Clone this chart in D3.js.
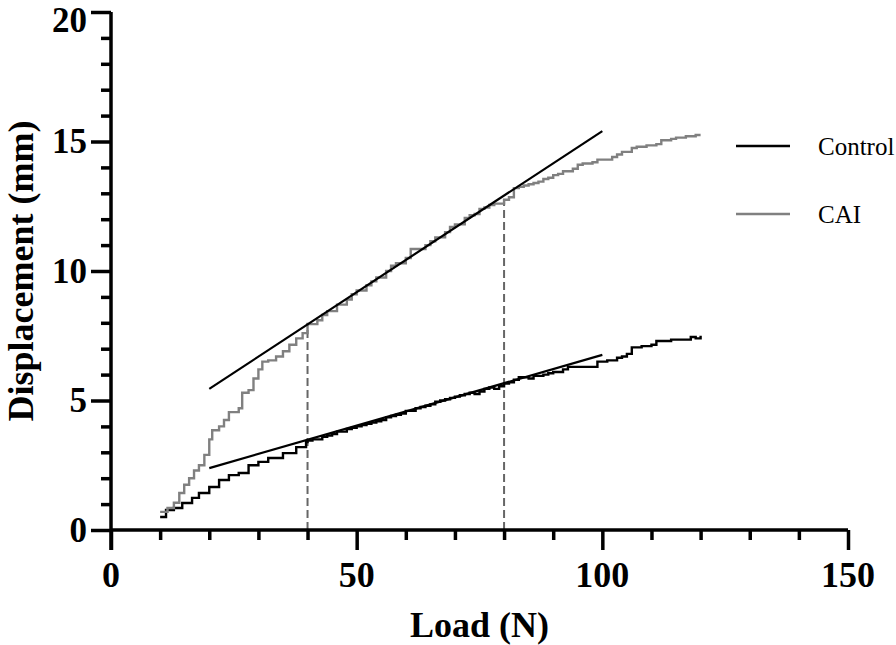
<!DOCTYPE html>
<html>
<head>
<meta charset="utf-8">
<script src="https://cdn.jsdelivr.net/npm/d3@7"></script>
<style>
  html, body { margin: 0; padding: 0; background: #fff; }
  text { font-family: "Liberation Serif", "Times New Roman", serif; }
</style>
</head>
<body>
<div id="chart"></div>
<script>
// tick labels
const xTicks = [0, 50, 100, 150];
const yTicks = [0, 5, 10, 15, 20];

// Control curve (load N, displacement mm)
const controlLoad = [10, 11.2, 12.8, 14.5, 16.5, 17.9, 20, 22, 24, 26, 28, 30, 32, 35, 37.7, 39.7,
  40, 41, 42, 43, 44, 45, 46, 47, 48, 49, 50, 51, 52, 53, 54, 55, 56, 57, 58, 59, 60, 61, 62, 63, 64,
  65, 66, 67, 68, 69, 70, 71, 72, 73, 74, 75, 76, 77, 78, 79, 80, 81, 82, 83, 84, 85, 86, 88, 89, 90,
  92, 93, 95, 98, 99, 101, 103, 104, 105, 106, 108, 110, 111, 114, 117, 118, 119, 120];
const controlDisp = [0.5, 0.77, 0.85, 1.04, 1.24, 1.43, 1.66, 1.93, 2.12, 2.2, 2.5, 2.63, 2.78, 2.97, 3.2, 3.4,
  3.45, 3.5, 3.5, 3.6, 3.65, 3.7, 3.8, 3.8, 3.9, 3.95, 4.0, 4.05, 4.1, 4.15, 4.2, 4.25, 4.35, 4.4, 4.45, 4.5, 4.6, 4.6, 4.7, 4.75, 4.8,
  4.85, 4.95, 5.0, 5.05, 5.1, 5.15, 5.2, 5.25, 5.3, 5.25, 5.35, 5.45, 5.5, 5.45, 5.55, 5.65, 5.7, 5.8, 5.9, 5.9, 5.85, 5.95, 6.0, 6.05, 6.1,
  6.2, 6.3, 6.3, 6.3, 6.5, 6.55, 6.65, 6.7, 6.8, 7.05, 7.1, 7.15, 7.3, 7.35, 7.35, 7.45, 7.4, 7.5];

// CAI curve (load N, displacement mm)
const caiLoad = [10, 11.5, 12.8, 13.9, 14.9, 15.9, 16.9, 17.9, 19, 20, 20.6, 22, 23, 24, 26, 26.7, 28, 29, 30, 30.8,
  32, 33.6, 35, 36.3, 37.7, 39, 40, 41, 42, 43, 44, 46, 48, 49, 50, 52, 53, 54, 56, 57, 58, 60, 61, 62, 64, 65, 66,
  68, 69, 70, 72, 73, 74, 75, 76, 77, 78, 79, 80, 81, 82, 83, 84, 85, 86, 87, 88, 89, 90, 91, 92, 94, 95, 96, 98,
  99, 100, 102, 103, 104, 106, 107, 109, 111, 112, 114, 115, 117, 119, 120];
const caiDisp = [0.7, 0.85, 1.05, 1.43, 1.75, 2.0, 2.3, 2.5, 2.9, 3.5, 3.85, 4.0, 4.25, 4.55, 4.7, 5.3, 5.4, 5.85, 6.2, 6.5,
  6.55, 6.7, 6.9, 7.15, 7.4, 7.6, 7.95, 7.95, 8.1, 8.3, 8.45, 8.7, 8.9, 9.1, 9.25, 9.45, 9.6, 9.75, 10.0, 10.2, 10.3, 10.5, 10.85, 10.85, 11.0, 11.15, 11.3,
  11.5, 11.7, 11.8, 12.05, 12.15, 12.2, 12.4, 12.45, 12.55, 12.6, 12.6, 12.75, 12.85, 13.2, 13.25, 13.3, 13.35, 13.4, 13.45, 13.55, 13.6, 13.7, 13.75, 13.85, 13.95, 14.1, 14.15, 14.2,
  14.3, 14.3, 14.4, 14.5, 14.6, 14.75, 14.8, 14.85, 14.9, 15.05, 15.1, 15.15, 15.2, 15.25, 15.25];

// linear fits and marker lines
const fitLoad = [20, 100];
const controlFit = [2.39, 6.76];
const caiFit = [5.45, 15.4];
const markLoad = [40, 80];
const markDisp = [8.0, 12.75];

const series = ['Control', 'CAI'];
const seriesColor = ['#000000', '#808080'];

const width = 896, height = 645;
const svg = d3.select('#chart').append('svg').attr('width', width).attr('height', height);

const x = d3.scaleLinear().domain([0, 150]).range([111, 848]);
const y = d3.scaleLinear().domain([0, 20]).range([530, 12]);

// dashed markers
svg.append('g').selectAll('line')
  .data(markLoad).enter()
  .append('line')
  .attr('x1', d => x(d)).attr('x2', d => x(d))
  .attr('y1', y(0)).attr('y2', (d, i) => y(markDisp[i]))
  .attr('stroke', '#666').attr('stroke-width', 2)
  .attr('stroke-dasharray', '8,4');

// curves
const line = d3.line().x(d => x(d[0])).y(d => y(d[1])).curve(d3.curveStepAfter);
const curves = [d3.zip(controlLoad, controlDisp), d3.zip(caiLoad, caiDisp)];
svg.append('g').selectAll('path')
  .data(curves).enter()
  .append('path')
  .attr('d', line)
  .attr('fill', 'none')
  .attr('stroke', (d, i) => seriesColor[i])
  .attr('stroke-width', 2.4)
  .attr('stroke-linejoin', 'miter');

// fit lines
const fitLine = d3.line().x(d => x(d[0])).y(d => y(d[1]));
svg.append('g').selectAll('path')
  .data([d3.zip(fitLoad, controlFit), d3.zip(fitLoad, caiFit)]).enter()
  .append('path')
  .attr('d', fitLine)
  .attr('fill', 'none')
  .attr('stroke', '#000')
  .attr('stroke-width', 2.2);

// x axis
const xAxis = svg.append('g').attr('transform', 'translate(0,' + y(0) + ')')
  .call(d3.axisBottom(x).tickValues(d3.range(0, 151, 10)).tickSize(10).tickFormat(''));
xAxis.selectAll('.tick line').filter(d => d % 50 === 0).attr('y2', 20);
xAxis.select('.domain').attr('d', 'M' + x(0) + ',0H' + x(150));
xAxis.selectAll('path, line').attr('stroke', '#000').attr('stroke-width', 3.5);
svg.append('g').selectAll('text')
  .data(xTicks).enter()
  .append('text')
  .attr('x', d => x(d)).attr('y', 587)
  .attr('text-anchor', 'middle')
  .style('font-size', '36px').style('font-weight', 'bold')
  .text(d => d);

// y axis
const yAxis = svg.append('g').attr('transform', 'translate(' + x(0) + ',0)')
  .call(d3.axisLeft(y).tickValues(d3.range(0, 21, 1)).tickSize(10).tickFormat(''));
yAxis.selectAll('.tick line').filter(d => d % 5 === 0).attr('x2', -20);
yAxis.select('.domain').attr('d', 'M0,' + y(20) + 'V' + (y(0) + 20));
yAxis.selectAll('path, line').attr('stroke', '#000').attr('stroke-width', 3.5);
svg.append('g').selectAll('text')
  .data(yTicks).enter()
  .append('text')
  .attr('x', 87).attr('y', d => y(d) + (d === 20 ? 8 : 0))
  .attr('dy', '0.34em')
  .attr('text-anchor', 'end')
  .style('font-size', '35px').style('font-weight', 'bold')
  .text(d => d);

// axis titles
svg.append('text')
  .attr('x', (x(0) + x(150)) / 2).attr('y', 637)
  .attr('text-anchor', 'middle')
  .style('font-size', '36px').style('font-weight', 'bold')
  .text('Load (N)');
svg.append('text')
  .attr('transform', 'translate(33,' + ((y(0) + y(20)) / 2) + ') rotate(-90)')
  .attr('text-anchor', 'middle')
  .style('font-size', '36px').style('font-weight', 'bold')
  .text('Displacement (mm)');

// legend
const legend = svg.append('g').selectAll('g')
  .data(series).enter()
  .append('g')
  .attr('transform', (d, i) => 'translate(0,' + (146 + i * 68) + ')');
legend.append('line')
  .attr('x1', 736).attr('x2', 790)
  .attr('stroke', (d, i) => seriesColor[i]).attr('stroke-width', 2.4);
legend.append('text')
  .attr('x', 818).attr('dy', '0.35em')
  .style('font-size', '25px')
  .text(d => d);
</script>
</body>
</html>
